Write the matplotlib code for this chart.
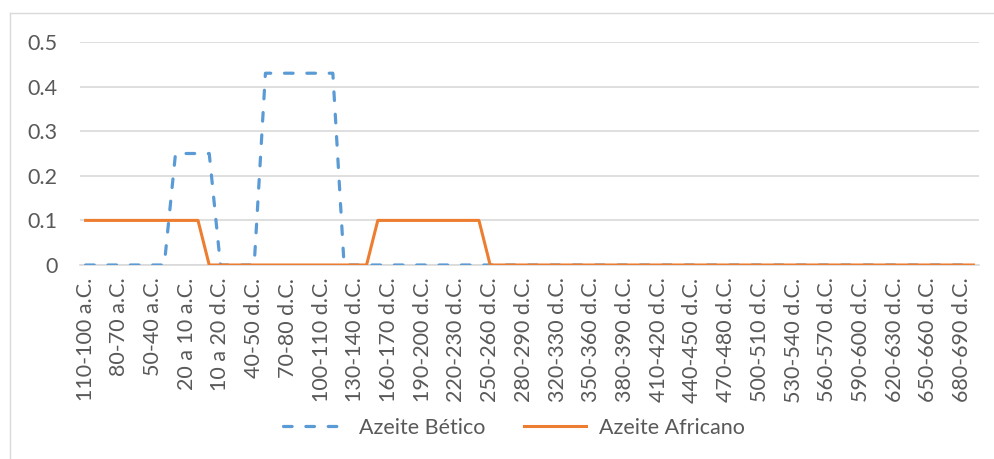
import matplotlib
matplotlib.use("Agg")
import matplotlib.pyplot as plt
from matplotlib.lines import Line2D

plt.rcParams['font.family'] = ['Lato', 'DejaVu Sans']

# Categories (10-year periods)
categories = (
    ["110-100 a.C.", "100-90 a.C.", "90-80 a.C.", "80-70 a.C.", "70-60 a.C.",
     "60-50 a.C.", "50-40 a.C.", "40-30 a.C.", "30-20 a.C.", "20 a 10 a.C.",
     "10 a.C. a 1 d.C.", "1 a 10 d.C.", "10 a 20 d.C."]
    + [f"{s}-{s+10} d.C." for s in range(20, 310, 10)]
    + [f"{s}-{s+10} d.C." for s in range(320, 700, 10)]
)

# Series values (index positions)
betico = [0.0] * len(categories)
for i in range(8, 12):
    betico[i] = 0.25
for i in range(16, 23):
    betico[i] = 0.43

africano = [0.0] * len(categories)
for i in range(0, 11):
    africano[i] = 0.1
for i in range(26, 36):
    africano[i] = 0.1

series_names = ["Azeite Bético", "Azeite Africano"]
yticks = [0, 0.1, 0.2, 0.3, 0.4, 0.5]
ytick_labels = ["0", "0.1", "0.2", "0.3", "0.4", "0.5"]

W, H = 994, 459
fig = plt.figure(figsize=(W / 100, H / 100), dpi=100)
ax = fig.add_axes([80 / W, 1 - 265 / H, (979 - 80) / W, (265 - 42) / H])

x = list(range(len(categories)))
blue = "#5B9BD5"
orange = "#ED7D31"
text_col = "#595959"
dash = (0, (2.7, 4.3))

ax.plot(x, betico, color=blue, lw=2.3, linestyle=dash, dash_capstyle="round",
        label=series_names[0], zorder=3)
ax.plot(x, africano, color=orange, lw=2.2, label=series_names[1], zorder=4)

ax.set_xlim(-0.5, len(categories) - 0.5)
ax.set_ylim(0, 0.5)
ax.set_yticks(yticks)
ax.set_yticklabels(ytick_labels)
ax.yaxis.grid(True, color="#D9D9D9", lw=1.2)
ax.set_axisbelow(True)
for s in ["top", "right", "left"]:
    ax.spines[s].set_visible(False)
ax.spines["bottom"].set_color("#D9D9D9")
ax.spines["bottom"].set_linewidth(1.2)

ax.set_xticks(x[::3])
ax.set_xticklabels(categories[::3], rotation=90, ha="center", va="top")
ax.tick_params(axis="both", length=0, colors=text_col, labelsize=15.5)
ax.tick_params(axis="x", pad=9)
ax.tick_params(axis="y", pad=16)

handles = [Line2D([], [], color=blue, lw=2.3, linestyle=dash, dash_capstyle="round"),
           Line2D([], [], color=orange, lw=2.2)]
leg = fig.legend(handles, series_names, loc="center", bbox_to_anchor=(514 / W, 1 - 428 / H),
                 ncol=2, frameon=False, fontsize=15.5, handlelength=2.9, columnspacing=1.8,
                 handletextpad=0.6)
for t in leg.get_texts():
    t.set_color(text_col)

# chart border
fig.add_artist(Line2D([9.5 / W, 9.5 / W], [0, 1 - 13 / H], transform=fig.transFigure, color="#D9D9D9", lw=1))
fig.add_artist(Line2D([9.5 / W, 1], [1 - 13 / H, 1 - 13 / H], transform=fig.transFigure, color="#D9D9D9", lw=1))

fig.savefig("out.png", dpi=100, facecolor="white")
